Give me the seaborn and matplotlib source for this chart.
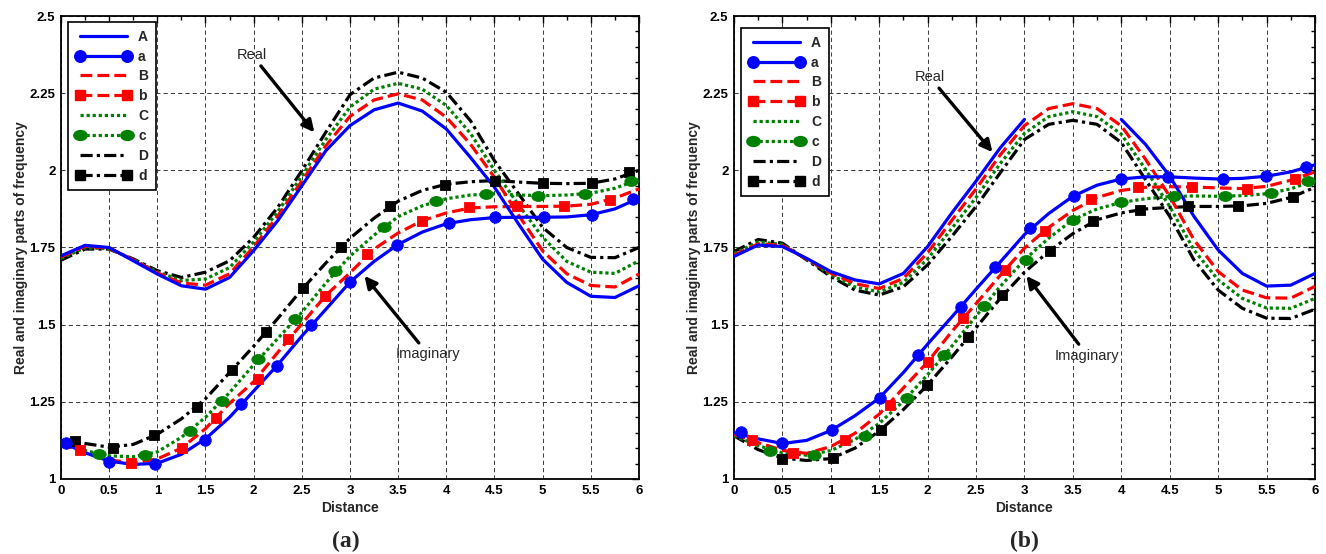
import numpy as np
import matplotlib
matplotlib.use("Agg")
import matplotlib.pyplot as plt
import seaborn as sns
from matplotlib.lines import Line2D
from matplotlib.path import Path
from matplotlib.ticker import MultipleLocator, FuncFormatter

sns.set_style("white")
plt.rcParams["font.family"] = ["Liberation Sans", "DejaVu Sans"]

nan = np.nan
# sample positions along the distance axis
dist = np.arange(0, 6.001, 0.25)

# ---------------- panel (a) ----------------
A_real_a = [1.723, 1.757, 1.750, 1.707, 1.664, 1.626, 1.615, 1.653, 1.740, 1.837, 1.950, 2.064, 2.145,
            2.196, 2.218, 2.192, 2.134, 2.042, 1.945, 1.826, 1.712, 1.637, 1.592, 1.588, 1.626]
B_real_a = [1.720, 1.754, 1.748, 1.710, 1.668, 1.635, 1.628, 1.665, 1.752, 1.852, 1.965, 2.080, 2.175,
            2.228, 2.248, 2.228, 2.172, 2.085, 1.977, 1.855, 1.739, 1.665, 1.627, 1.622, 1.664]
C_real_a = [1.715, 1.749, 1.746, 1.711, 1.671, 1.643, 1.648, 1.685, 1.768, 1.866, 1.982, 2.100, 2.205,
            2.263, 2.282, 2.263, 2.210, 2.120, 2.000, 1.888, 1.783, 1.705, 1.670, 1.666, 1.707]
D_real_a = [1.709, 1.745, 1.745, 1.713, 1.675, 1.653, 1.670, 1.707, 1.783, 1.880, 1.999, 2.124, 2.245,
            2.299, 2.318, 2.299, 2.253, 2.161, 2.031, 1.924, 1.815, 1.750, 1.718, 1.717, 1.750]

a_imag_a = [1.120, 1.085, 1.058, 1.047, 1.051, 1.080, 1.130, 1.200, 1.285, 1.370, 1.463, 1.550, 1.638,
            1.705, 1.760, 1.800, 1.827, 1.840, 1.847, 1.848, 1.848, 1.849, 1.856, 1.875, 1.910]
b_imag_a = [1.115, 1.085, 1.062, 1.052, 1.065, 1.100, 1.163, 1.245, 1.315, 1.410, 1.503, 1.595, 1.668,
            1.745, 1.797, 1.837, 1.862, 1.878, 1.882, 1.883, 1.883, 1.884, 1.890, 1.910, 1.940]
c_imag_a = [1.118, 1.092, 1.075, 1.072, 1.088, 1.135, 1.200, 1.280, 1.370, 1.455, 1.540, 1.635, 1.722,
            1.790, 1.850, 1.885, 1.908, 1.920, 1.924, 1.920, 1.918, 1.920, 1.926, 1.942, 1.970]
d_imag_a = [1.125, 1.115, 1.103, 1.112, 1.145, 1.195, 1.260, 1.345, 1.430, 1.520, 1.614, 1.700, 1.780,
            1.845, 1.900, 1.935, 1.955, 1.963, 1.967, 1.962, 1.958, 1.957, 1.958, 1.972, 2.000]

am_x_a = [0.05, 0.50, 0.98, 1.49, 1.87, 2.24, 2.60, 3.00, 3.49, 4.03, 4.51, 5.01, 5.51, 5.94]
am_y_a = [1.115, 1.055, 1.050, 1.127, 1.242, 1.367, 1.499, 1.637, 1.759, 1.828, 1.848, 1.848, 1.856, 1.907]
bm_x_a = [0.20, 0.73, 1.26, 1.61, 2.04, 2.36, 2.74, 3.18, 3.75, 4.24, 4.73, 5.22, 5.70]
bm_y_a = [1.094, 1.051, 1.102, 1.198, 1.323, 1.453, 1.592, 1.729, 1.837, 1.880, 1.883, 1.883, 1.904]
cm_x_a = [0.39, 0.87, 1.34, 1.67, 2.05, 2.43, 2.84, 3.35, 3.89, 4.41, 4.95, 5.44, 5.92]
cm_y_a = [1.080, 1.077, 1.156, 1.253, 1.388, 1.518, 1.673, 1.815, 1.902, 1.924, 1.918, 1.924, 1.965]
dm_x_a = [0.15, 0.54, 0.97, 1.41, 1.77, 2.13, 2.51, 2.91, 3.42, 3.99, 4.51, 5.00, 5.51, 5.90]
dm_y_a = [1.123, 1.102, 1.143, 1.232, 1.353, 1.475, 1.618, 1.753, 1.885, 1.954, 1.967, 1.958, 1.958, 1.996]

# ---------------- panel (b) ----------------
A_real_b = [1.721, 1.758, 1.753, 1.715, 1.672, 1.645, 1.632, 1.666, 1.753, 1.862, 1.965, 2.073, 2.165,
            nan, nan, nan, 2.165, 2.084, 1.981, 1.851, 1.742, 1.666, 1.625, 1.628, 1.666]
B_real_b = [1.725, 1.762, 1.757, 1.713, 1.667, 1.633, 1.617, 1.650, 1.733, 1.838, 1.940, 2.050, 2.145,
            2.200, 2.216, 2.200, 2.144, 2.036, 1.916, 1.775, 1.672, 1.612, 1.587, 1.586, 1.624]
C_real_b = [1.730, 1.768, 1.760, 1.712, 1.662, 1.622, 1.606, 1.637, 1.713, 1.812, 1.912, 2.022, 2.120,
            2.174, 2.190, 2.174, 2.117, 2.003, 1.883, 1.742, 1.645, 1.585, 1.554, 1.553, 1.585]
D_real_b = [1.737, 1.776, 1.764, 1.710, 1.656, 1.612, 1.596, 1.623, 1.694, 1.786, 1.883, 1.992, 2.100,
            2.149, 2.162, 2.149, 2.090, 1.970, 1.851, 1.710, 1.612, 1.553, 1.521, 1.520, 1.550]

a_imag_b = [1.150, 1.130, 1.115, 1.125, 1.157, 1.205, 1.262, 1.345, 1.437, 1.525, 1.615, 1.703, 1.792,
            1.860, 1.916, 1.952, 1.972, 1.979, 1.979, 1.975, 1.972, 1.974, 1.981, 1.995, 2.018]
b_imag_b = [1.145, 1.118, 1.093, 1.083, 1.105, 1.148, 1.210, 1.295, 1.379, 1.478, 1.568, 1.660, 1.748,
            1.815, 1.870, 1.912, 1.935, 1.945, 1.947, 1.946, 1.943, 1.941, 1.948, 1.968, 1.995]
c_imag_b = [1.140, 1.108, 1.085, 1.077, 1.092, 1.128, 1.180, 1.252, 1.338, 1.430, 1.528, 1.624, 1.710,
            1.780, 1.840, 1.875, 1.896, 1.908, 1.915, 1.917, 1.916, 1.918, 1.924, 1.940, 1.968]
d_imag_b = [1.140, 1.095, 1.068, 1.060, 1.066, 1.100, 1.155, 1.225, 1.305, 1.395, 1.490, 1.585, 1.670,
            1.737, 1.795, 1.840, 1.862, 1.875, 1.880, 1.883, 1.883, 1.885, 1.893, 1.912, 1.945]

am_x_b = [0.07, 0.50, 1.01, 1.51, 1.90, 2.34, 2.70, 3.06, 3.51, 4.00, 4.48, 5.05, 5.49, 5.91]
am_y_b = [1.151, 1.115, 1.159, 1.263, 1.401, 1.558, 1.686, 1.813, 1.918, 1.972, 1.979, 1.972, 1.981, 2.011]
bm_x_b = [0.19, 0.61, 1.15, 1.61, 2.00, 2.37, 2.80, 3.21, 3.69, 4.17, 4.73, 5.30, 5.79]
bm_y_b = [1.126, 1.084, 1.126, 1.240, 1.379, 1.520, 1.677, 1.805, 1.907, 1.946, 1.946, 1.941, 1.972]
cm_x_b = [0.37, 0.83, 1.35, 1.79, 2.17, 2.58, 3.02, 3.50, 4.00, 4.54, 5.07, 5.55, 5.93]
cm_y_b = [1.092, 1.078, 1.140, 1.262, 1.401, 1.560, 1.708, 1.840, 1.896, 1.916, 1.916, 1.925, 1.965]
dm_x_b = [0.50, 1.02, 1.52, 1.99, 2.42, 2.77, 3.26, 3.71, 4.19, 4.69, 5.20, 5.77]
dm_y_b = [1.065, 1.068, 1.159, 1.303, 1.460, 1.596, 1.739, 1.835, 1.873, 1.883, 1.883, 1.913]

legend_labels = ["A", "a", "B", "b", "C", "c", "D", "d"]
xticks = [0, 0.5, 1, 1.5, 2, 2.5, 3, 3.5, 4, 4.5, 5, 5.5, 6]
yticks = [1, 1.25, 1.5, 1.75, 2, 2.25, 2.5]

# ---------------- styles ----------------
ellipse = Path(Path.unit_circle().vertices * np.array([1.35, 1.0]), Path.unit_circle().codes)
LW = 2.3
series_style = [
    dict(color="#0000FF", ls="-", marker="o", ms=8.3),
    dict(color="#FF0000", ls=(0, (3.7, 1.6)), marker="s", ms=7.2),
    dict(color="#008000", ls=(0, (1.0, 0.9)), marker=ellipse, ms=9.6),
    dict(color="#000000", ls=(0, (3.8, 1.3, 1.0, 1.3)), marker="s", ms=7.2),
]

fig = plt.figure(figsize=(13.26, 5.54), dpi=100)


def seg_lineplot(ax, x, y, **kw):
    x = np.asarray(x, float)
    y = np.asarray(y, float)
    idx = np.where(~np.isnan(y))[0]
    runs = np.split(idx, np.where(np.diff(idx) != 1)[0] + 1)
    for r in runs:
        if len(r) > 1:
            sns.lineplot(x=x[r], y=y[r], ax=ax, sort=False, estimator=None, **kw)


def panel(rect, reals, imags, marks, ann):
    ax = fig.add_axes(rect)
    for k in range(3, -1, -1):
        st = series_style[k]
        seg_lineplot(ax, dist, reals[k], color=st["color"], linestyle=st["ls"], linewidth=LW,
                     zorder=3, solid_joinstyle="round", dash_joinstyle="round")
        seg_lineplot(ax, dist, imags[k], color=st["color"], linestyle=st["ls"], linewidth=LW,
                     zorder=3, solid_joinstyle="round", dash_joinstyle="round")
        mx, my = marks[k]
        sns.scatterplot(x=mx, y=my, ax=ax, marker=st["marker"], s=st["ms"] ** 2,
                        color=st["color"], edgecolor=st["color"], linewidth=0.6, zorder=4)
    ax.set_xlim(0, 6)
    ax.set_ylim(1, 2.5)
    ax.set_xticks(xticks)
    ax.set_yticks(yticks)
    ax.xaxis.set_minor_locator(MultipleLocator(0.25))
    ax.yaxis.set_minor_locator(MultipleLocator(0.05))
    fmt = FuncFormatter(lambda v, p: "%g" % v)
    ax.xaxis.set_major_formatter(fmt)
    ax.yaxis.set_major_formatter(fmt)
    ax.tick_params(which="both", direction="in", top=True, right=True, width=1.0, colors="black")
    ax.tick_params(which="major", length=5, labelsize=9.5, pad=4)
    ax.tick_params(which="minor", length=3)
    for lab in ax.get_xticklabels() + ax.get_yticklabels():
        lab.set_fontweight("bold")
    ax.grid(True, which="major", color="0.25", linestyle=(0, (4, 3)), linewidth=0.75)
    ax.set_axisbelow(True)
    for sp in ax.spines.values():
        sp.set_color("black")
        sp.set_linewidth(1.3)
    ax.set_xlabel("Distance", fontsize=10, fontweight="bold", labelpad=3)
    ax.set_ylabel("Real and imaginary parts of frequency", fontsize=10, fontweight="bold", labelpad=1)

    handles = []
    for k in range(4):
        st = series_style[k]
        handles.append(Line2D([0], [0], color=st["color"], linestyle=st["ls"], linewidth=LW))
        handles.append(Line2D([0], [0], color=st["color"], linestyle=st["ls"], linewidth=LW,
                              marker=st["marker"], markersize=st["ms"], markeredgecolor=st["color"],
                              markerfacecolor=st["color"]))
    leg = ax.legend(handles, legend_labels, loc="upper left", bbox_to_anchor=ann["leg"],
                    borderaxespad=0, fancybox=False, frameon=True, edgecolor="black",
                    framealpha=1, handlelength=4.0, numpoints=2, labelspacing=0.42,
                    handletextpad=0.5, borderpad=0.55,
                    prop=dict(family="Liberation Sans", weight="bold", size=10))
    leg.get_frame().set_linewidth(1.2)
    leg.set_zorder(10)

    arrow = dict(arrowstyle="-|>", color="black", lw=2.4, mutation_scale=18, shrinkA=1, shrinkB=0)
    ax.annotate("Real", xy=ann["real_tip"], xytext=ann["real_txt"], ha="center", va="center",
                fontsize=10.5, arrowprops=arrow, zorder=6)
    ax.annotate("Imaginary", xy=ann["imag_tip"], xytext=ann["imag_txt"], ha="center", va="center",
                fontsize=10.5, arrowprops=arrow, zorder=6)
    return ax


ax_a = panel([0.046, 0.1354, 0.4359, 0.8357],
             [A_real_a, B_real_a, C_real_a, D_real_a],
             [a_imag_a, b_imag_a, c_imag_a, d_imag_a],
             [(am_x_a, am_y_a), (bm_x_a, bm_y_a), (cm_x_a, cm_y_a), (dm_x_a, dm_y_a)],
             dict(leg=(0.012, 0.987), real_tip=(2.63, 2.123), real_txt=(1.98, 2.375),
                  imag_tip=(3.15, 1.658), imag_txt=(3.81, 1.404)))

ax_b = panel([0.5535, 0.1354, 0.4382, 0.8357],
             [A_real_b, B_real_b, C_real_b, D_real_b],
             [a_imag_b, b_imag_b, c_imag_b, d_imag_b],
             [(am_x_b, am_y_b), (bm_x_b, bm_y_b), (cm_x_b, cm_y_b), (dm_x_b, dm_y_b)],
             dict(leg=(0.012, 0.974), real_tip=(2.67, 2.059), real_txt=(2.02, 2.303),
                  imag_tip=(3.02, 1.658), imag_txt=(3.65, 1.40)))

fig.text(346 / 1326, 1 - 541 / 554, "(a)", ha="center", va="center", fontsize=17,
         fontweight="bold", family="Liberation Serif")
fig.text(1024 / 1326, 1 - 541 / 554, "(b)", ha="center", va="center", fontsize=17,
         fontweight="bold", family="Liberation Serif")

fig.savefig("out.png", dpi=100)
